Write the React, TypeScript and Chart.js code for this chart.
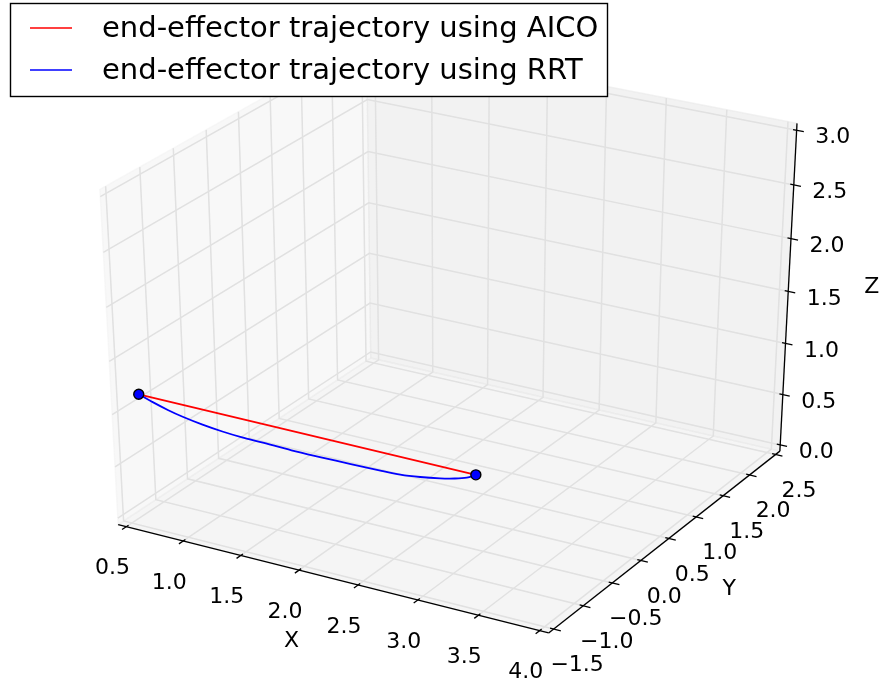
import { useEffect, useRef } from 'react';
import { Chart, registerables } from 'chart.js';

Chart.register(...registerables);

// ---------- data ----------
const xLimits = [0.5, 4.0];
const yLimits = [-1.5, 2.5];
const zLimits = [0.0, 3.0];

const xTicks = [0.5, 1.0, 1.5, 2.0, 2.5, 3.0, 3.5, 4.0];
const xTickLabels = ['0.5', '1.0', '1.5', '2.0', '2.5', '3.0', '3.5', '4.0'];
const yTicks = [-1.5, -1.0, -0.5, 0.0, 0.5, 1.0, 1.5, 2.0, 2.5];
const yTickLabels = ['\u22121.5', '\u22121.0', '\u22120.5', '0.0', '0.5', '1.0', '1.5', '2.0', '2.5'];
const zTicks = [0.0, 0.5, 1.0, 1.5, 2.0, 2.5, 3.0];
const zTickLabels = ['0.0', '0.5', '1.0', '1.5', '2.0', '2.5', '3.0'];
const axisTitles = ['X', 'Y', 'Z'];

const seriesLabels = ['end-effector trajectory using AICO', 'end-effector trajectory using RRT'];
const seriesColors = ['#ff0000', '#0000ff'];

const aicoX = [0.5, 2.91];
const aicoY = [-1.3, -0.45];
const aicoZ = [1.1, 0.63];

const rrtX = [0.5, 0.599, 0.706, 0.812, 0.954, 1.096, 1.237, 1.379, 1.592, 1.804, 2.017, 2.229, 2.371, 2.513, 2.655, 2.761, 2.846, 2.91];
const rrtY = [-1.3, -1.265, -1.2275, -1.19, -1.14, -1.09, -1.04, -0.99, -0.915, -0.84, -0.765, -0.69, -0.64, -0.59, -0.54, -0.5025, -0.4725, -0.45];
const rrtZ = [1.1, 1.037, 0.976, 0.924, 0.866, 0.818, 0.779, 0.749, 0.7, 0.659, 0.62, 0.584, 0.564, 0.559, 0.564, 0.576, 0.5955, 0.63];

const markerX = [0.5, 2.91];
const markerY = [-1.3, -0.45];
const markerZ = [1.1, 0.63];

// ---------- view (matplotlib default 3D camera) ----------
const ELEV = 30;
const AZIM = -60;
const DIST = 10;

const FONT = '"DejaVu Sans", sans-serif';

function dot(a: number[], b: number[]) {
  return a[0] * b[0] + a[1] * b[1] + a[2] * b[2];
}

const er = (ELEV * Math.PI) / 180;
const ar = (AZIM * Math.PI) / 180;
const nVec = [Math.cos(ar) * Math.cos(er), Math.sin(ar) * Math.cos(er), Math.sin(er)];
const uLen = Math.hypot(nVec[0], nVec[1]);
const uVec = [-nVec[1] / uLen, nVec[0] / uLen, 0];
const vVec = [
  nVec[1] * uVec[2] - nVec[2] * uVec[1],
  nVec[2] * uVec[0] - nVec[0] * uVec[2],
  nVec[0] * uVec[1] - nVec[1] * uVec[0],
];

function project(x: number, y: number, z: number) {
  const q = [
    (x - xLimits[0]) / (xLimits[1] - xLimits[0]) - 0.5,
    (y - yLimits[0]) / (yLimits[1] - yLimits[0]) - 0.5,
    (z - zLimits[0]) / (zLimits[1] - zLimits[0]) - 0.5,
  ];
  const w = DIST - dot(nVec, q);
  return { x: dot(uVec, q) / w, y: dot(vVec, q) / w };
}

function toPoints(xs: number[], ys: number[], zs: number[]) {
  return xs.map((x, i) => project(x, ys[i], zs[i]));
}

// box extends 1/48 of the range beyond the limits (matplotlib axis3d)
function boxOf(lim: number[]) {
  const d = (lim[1] - lim[0]) / 12;
  return [lim[0] - d / 4, lim[1] + d / 4];
}

const axes3dPlugin = {
  id: 'axes3d',
  beforeDatasetsDraw(chart: any) {
    const ctx = chart.ctx as CanvasRenderingContext2D;
    const sx = chart.scales.x;
    const sy = chart.scales.y;
    const P = (x: number, y: number, z: number): [number, number] => {
      const p = project(x, y, z);
      return [sx.getPixelForValue(p.x), sy.getPixelForValue(p.y)];
    };
    const [x0, x1] = boxOf(xLimits);
    const [y0, y1] = boxOf(yLimits);
    const [z0, z1] = boxOf(zLimits);
    const dx = (xLimits[1] - xLimits[0]) / 12;
    const dy = (yLimits[1] - yLimits[0]) / 12;

    ctx.save();
    const poly = (pts: [number, number][], fill: string) => {
      ctx.beginPath();
      pts.forEach((p, i) => (i ? ctx.lineTo(p[0], p[1]) : ctx.moveTo(p[0], p[1])));
      ctx.closePath();
      ctx.fillStyle = fill;
      ctx.fill();
      ctx.strokeStyle = fill;
      ctx.lineWidth = 1.4;
      ctx.stroke();
    };
    // panes
    poly([P(x0, y0, z0), P(x0, y1, z0), P(x0, y1, z1), P(x0, y0, z1)], 'rgba(242,242,242,0.5)');
    poly([P(x0, y1, z0), P(x1, y1, z0), P(x1, y1, z1), P(x0, y1, z1)], 'rgba(230,230,230,0.5)');
    poly([P(x0, y0, z0), P(x1, y0, z0), P(x1, y1, z0), P(x0, y1, z0)], 'rgba(236,236,236,0.5)');

    const path = (pts: [number, number][], color: string, lw: number) => {
      ctx.beginPath();
      pts.forEach((p, i) => (i ? ctx.lineTo(p[0], p[1]) : ctx.moveTo(p[0], p[1])));
      ctx.strokeStyle = color;
      ctx.lineWidth = lw;
      ctx.stroke();
    };
    // grid
    const gc = '#e1e1e1';
    const gw = 1.5;
    xTicks.forEach((x) => path([P(x, y0, z0), P(x, y1, z0), P(x, y1, z1)], gc, gw));
    yTicks.forEach((y) => path([P(x1, y, z0), P(x0, y, z0), P(x0, y, z1)], gc, gw));
    zTicks.forEach((z) => path([P(x0, y0, z), P(x0, y1, z), P(x1, y1, z)], gc, gw));

    // axis lines
    const ac = '#000';
    path([P(x0, y0, z0), P(x1, y0, z0)], ac, 1.3);
    path([P(x1, y0, z0), P(x1, y1, z0)], ac, 1.3);
    path([P(x1, y1, z0), P(x1, y1, z1)], ac, 1.3);

    // ticks
    xTicks.forEach((x) => path([P(x, y0 + 0.1 * dy, z0), P(x, y0 - 0.2 * dy, z0)], ac, 1.3));
    yTicks.forEach((y) => path([P(x1 - 0.1 * dx, y, z0), P(x1 + 0.2 * dx, y, z0)], ac, 1.3));
    zTicks.forEach((z) => path([P(x1 - 0.1 * dx, y1, z), P(x1 + 0.2 * dx, y1, z)], ac, 1.3));

    // tick labels
    ctx.fillStyle = '#000';
    ctx.font = `22px ${FONT}`;
    ctx.textAlign = 'center';
    ctx.textBaseline = 'middle';
    xTicks.forEach((x, i) => {
      const p = P(x, y0, z0);
      ctx.fillText(xTickLabels[i], p[0] - 14, p[1] + 42);
    });
    yTicks.forEach((y, i) => {
      const p = P(x1, y, z0);
      ctx.fillText(yTickLabels[i], p[0] + 23.5, p[1] + 36.5);
    });
    zTicks.forEach((z, i) => {
      const p = P(x1, y1, z);
      ctx.fillText(zTickLabels[i], p[0] + 36, p[1] + 7.5);
    });

    // axis titles
    const mx = P((x0 + x1) / 2, y0, z0);
    ctx.fillText(axisTitles[0], mx[0] - 37, mx[1] + 64);
    const my = P(x1, (y0 + y1) / 2, z0);
    ctx.fillText(axisTitles[1], my[0] + 60.5, my[1] + 51);
    const mz = P(x1, y1, (z0 + z1) / 2);
    ctx.fillText(axisTitles[2], mz[0] + 83.5, mz[1] - 4);
    ctx.restore();
  },
};

const legendPlugin = {
  id: 'boxLegend',
  afterDraw(chart: any) {
    const ctx = chart.ctx as CanvasRenderingContext2D;
    ctx.save();
    ctx.fillStyle = '#ffffff';
    ctx.fillRect(10, 3, 598, 94);
    ctx.strokeStyle = '#000';
    ctx.lineWidth = 1.4;
    ctx.strokeRect(10.5, 3.5, 597, 93);
    ctx.font = `29px ${FONT}`;
    ctx.textAlign = 'left';
    ctx.textBaseline = 'middle';
    seriesLabels.forEach((label, i) => {
      const yy = 28 + i * 42;
      ctx.beginPath();
      ctx.moveTo(30, yy);
      ctx.lineTo(72, yy);
      ctx.strokeStyle = seriesColors[i];
      ctx.lineWidth = 1.6;
      ctx.stroke();
      ctx.fillStyle = '#000';
      ctx.fillText(label, 102, yy + 1);
    });
    ctx.restore();
  },
};

export default function App() {
  const ref = useRef<HTMLCanvasElement | null>(null);

  useEffect(() => {
    document.body.style.margin = '0';
    const canvas = ref.current;
    if (!canvas) return;
    const chart = new Chart(canvas, {
      type: 'scatter',
      data: {
        datasets: [
          {
            label: 'endpoints',
            data: toPoints(markerX, markerY, markerZ),
            showLine: false,
            pointRadius: 5,
            pointBackgroundColor: '#0000ff',
            pointBorderColor: '#000000',
            pointBorderWidth: 1.4,
            order: 0,
          },
          {
            label: seriesLabels[1],
            data: toPoints(rrtX, rrtY, rrtZ),
            showLine: true,
            borderColor: seriesColors[1],
            borderWidth: 1.8,
            pointRadius: 0,
            tension: 0.3,
            order: 1,
          },
          {
            label: seriesLabels[0],
            data: toPoints(aicoX, aicoY, aicoZ),
            showLine: true,
            borderColor: seriesColors[0],
            borderWidth: 1.8,
            pointRadius: 0,
            tension: 0,
            order: 2,
          },
        ],
      } as any,
      options: {
        responsive: false,
        animation: false,
        events: [],
        layout: { padding: 0 },
        scales: {
          x: { type: 'linear', min: -0.093905, max: 0.089566, display: false },
          y: { type: 'linear', min: -0.097995, max: 0.087032, display: false },
        },
        plugins: { legend: { display: false }, tooltip: { enabled: false } },
      },
      plugins: [axes3dPlugin, legendPlugin],
    });
    return () => chart.destroy();
  }, []);

  return (
    <div style={{ position: 'absolute', left: 0, top: 0, width: 888, height: 692 }}>
      <canvas ref={ref} width={888} height={692} style={{ display: 'block' }} />
    </div>
  );
}
